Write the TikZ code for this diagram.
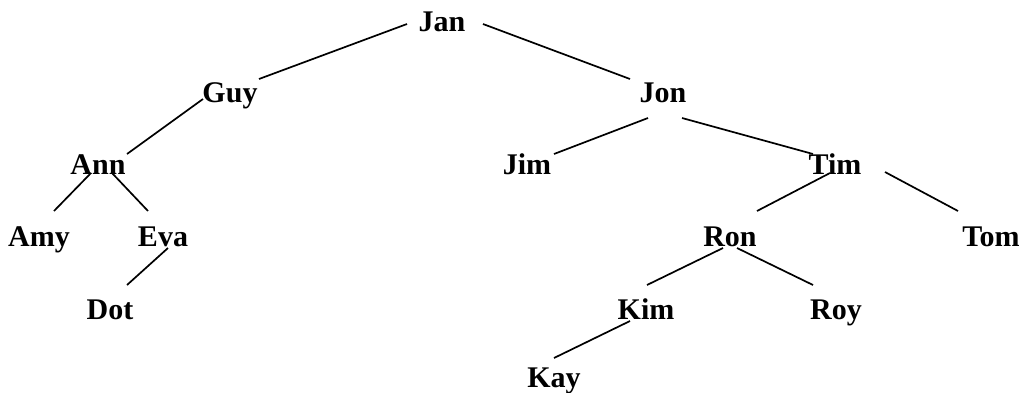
\documentclass[tikz,border=0pt]{standalone}
\usepackage{fontspec}
\setmainfont{Liberation Serif}
\begin{document}
\begin{tikzpicture}[x=1pt,y=-1pt,
  person/.style={anchor=base,inner sep=0pt,font=\fontsize{30}{31}\selectfont\bfseries},
  edge/.style={line width=1.7pt}]
\useasboundingbox (0,0) rectangle (1031,392);
% names, placed by their baselines
\node[person] (jan) at (442,31) {Jan};
\node[person] (guy) at (230,102) {Guy};
\node[person] (jon) at (663,102) {Jon};
\node[person] (ann) at (98,174) {Ann};
\node[person] (jim) at (527,174) {Jim};
\node[person] (tim) at (835,174) {Tim};
\node[person] (amy) at (39,246) {Amy};
\node[person] (eva) at (163,246) {Eva};
\node[person] (ron) at (730,246) {Ron};
\node[person] (tom) at (991,246) {Tom};
\node[person] (dot) at (110,319) {Dot};
\node[person] (kim) at (646,319) {Kim};
\node[person] (roy) at (836,319) {Roy};
\node[person] (kay) at (554,387) {Kay};
% tree edges
\draw[edge] ([shift={(-35,-7)}]jan.base) -- ([shift={(29,-23)}]guy.base);
\draw[edge] ([shift={(41,-7)}]jan.base) -- ([shift={(-33,-23)}]jon.base);
\draw[edge] ([shift={(-27,-3)}]guy.base) -- ([shift={(29,-20)}]ann.base);
\draw[edge] ([shift={(-7,-1)}]ann.base) -- ([shift={(15,-35)}]amy.base);
\draw[edge] ([shift={(14,-1)}]ann.base) -- ([shift={(-15,-35)}]eva.base);
\draw[edge] ([shift={(5,2)}]eva.base) -- ([shift={(17,-34)}]dot.base);
\draw[edge] ([shift={(-15,16)}]jon.base) -- ([shift={(27,-20)}]jim.base);
\draw[edge] ([shift={(19,16)}]jon.base) -- ([shift={(-22,-20)}]tim.base);
\draw[edge] ([shift={(-5,-1)}]tim.base) -- ([shift={(27,-35)}]ron.base);
\draw[edge] ([shift={(50,-2)}]tim.base) -- ([shift={(-33,-35)}]tom.base);
\draw[edge] ([shift={(-7,2)}]ron.base) -- ([shift={(1,-34)}]kim.base);
\draw[edge] ([shift={(7,2)}]ron.base) -- ([shift={(-23,-34)}]roy.base);
\draw[edge] ([shift={(-16,2)}]kim.base) -- ([shift={(0,-29)}]kay.base);
\end{tikzpicture}
\end{document}
